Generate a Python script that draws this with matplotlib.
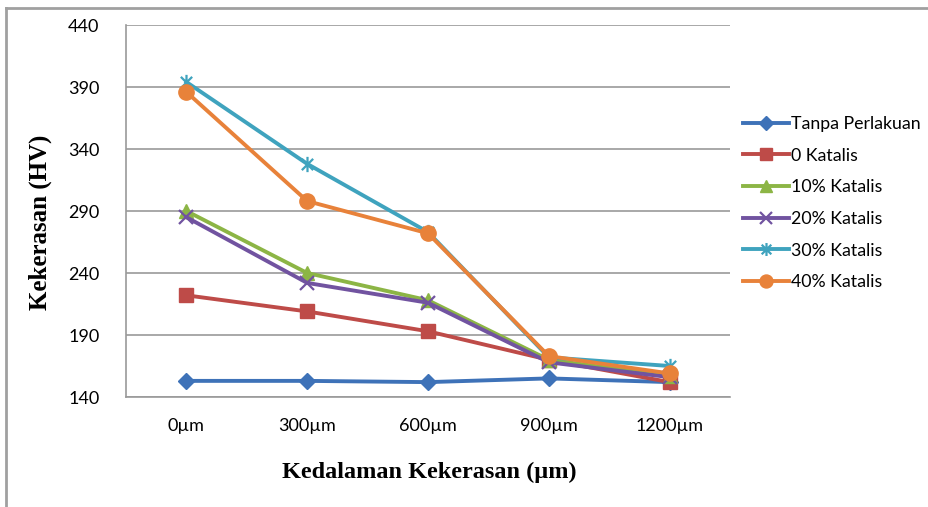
import matplotlib
matplotlib.use("Agg")
import matplotlib.pyplot as plt
from matplotlib.path import Path
from matplotlib.lines import Line2D

categories = ["0µm", "300µm", "600µm", "900µm", "1200µm"]
series_names = ["Tanpa Perlakuan", "0 Katalis", "10% Katalis", "20% Katalis", "30% Katalis", "40% Katalis"]
tanpa = [153, 153, 152, 155, 152]
katalis_0 = [222, 209, 193, 170, 152]
katalis_10 = [290, 240, 218, 170, 157]
katalis_20 = [285, 232, 216, 168, 156]
katalis_30 = [394, 328, 273, 172, 165]
katalis_40 = [386, 298, 272, 173, 159]
yticks = [140, 190, 240, 290, 340, 390, 440]

values = [tanpa, katalis_0, katalis_10, katalis_20, katalis_30, katalis_40]
colors = ["#3E72B8", "#BE4B48", "#8CB545", "#7153A0", "#3FA3BE", "#E8823A"]

asterisk = Path([(-1, -1), (1, 1), (-1, 1), (1, -1), (0, -1.35), (0, 1.35)],
                [Path.MOVETO, Path.LINETO, Path.MOVETO, Path.LINETO, Path.MOVETO, Path.LINETO])
markers = ["D", "s", "^", "x", asterisk, "o"]
msizes = [8.5, 10, 10, 10, 11, 11]

fig = plt.figure(figsize=(9.29, 5.07), dpi=100)
ax = fig.add_axes([126/929, 1-397/507, (730-126)/929, (397-25)/507])

x = list(range(len(categories)))
for vals, c, m, ms, name in zip(values, colors, markers, msizes, series_names):
    hollow = m in ("x",) or m is asterisk
    ax.plot(x, vals, color=c, lw=2.8, marker=m, ms=ms,
            mec=c, mfc=c, mew=1.6 if hollow else 1, label=name, solid_joinstyle="round")

ax.set_xlim(-0.5, 4.5)
ax.set_ylim(140, 440)
ax.set_yticks(yticks)
ax.set_xticks(x)
ax.set_xticklabels(categories)
ax.yaxis.grid(True, color="#9a9a9a", lw=1.2)
ax.set_axisbelow(True)
for s in ["top", "right"]:
    ax.spines[s].set_visible(False)
for s in ["left", "bottom"]:
    ax.spines[s].set_color("#9a9a9a")
    ax.spines[s].set_linewidth(1.2)
ax.tick_params(length=0, labelsize=13)
for lbl in ax.get_xticklabels() + ax.get_yticklabels():
    lbl.set_family("Lato")
ax.tick_params(axis="y", pad=19)
ax.tick_params(axis="x", pad=15)

fig.text(429/929, 1-472/507, "Kedalaman Kekerasan (µm)", ha="center", va="center",
         family="Liberation Serif", weight="bold", fontsize=17.5)
fig.text(40/929, 1-222/507, "Kekerasan (HV)", ha="center", va="center", rotation=90,
         family="Liberation Serif", weight="bold", fontsize=18)

leg = ax.legend(loc="upper left", bbox_to_anchor=(743/929, 1-116/507),
                bbox_transform=fig.transFigure, frameon=False,
                prop={"family": "Lato", "size": 12.8}, handlelength=2.6,
                handletextpad=0.1, labelspacing=0.88, borderaxespad=0, borderpad=0,
                markerscale=0.85)

# outer chart border
fig.add_artist(Line2D([6/929, 1], [1-8/507, 1-8/507], transform=fig.transFigure, color="#a0a0a0", lw=2))
fig.add_artist(Line2D([6/929, 6/929], [0, 1-8/507], transform=fig.transFigure, color="#a0a0a0", lw=2))

fig.savefig("out.png", dpi=100)
